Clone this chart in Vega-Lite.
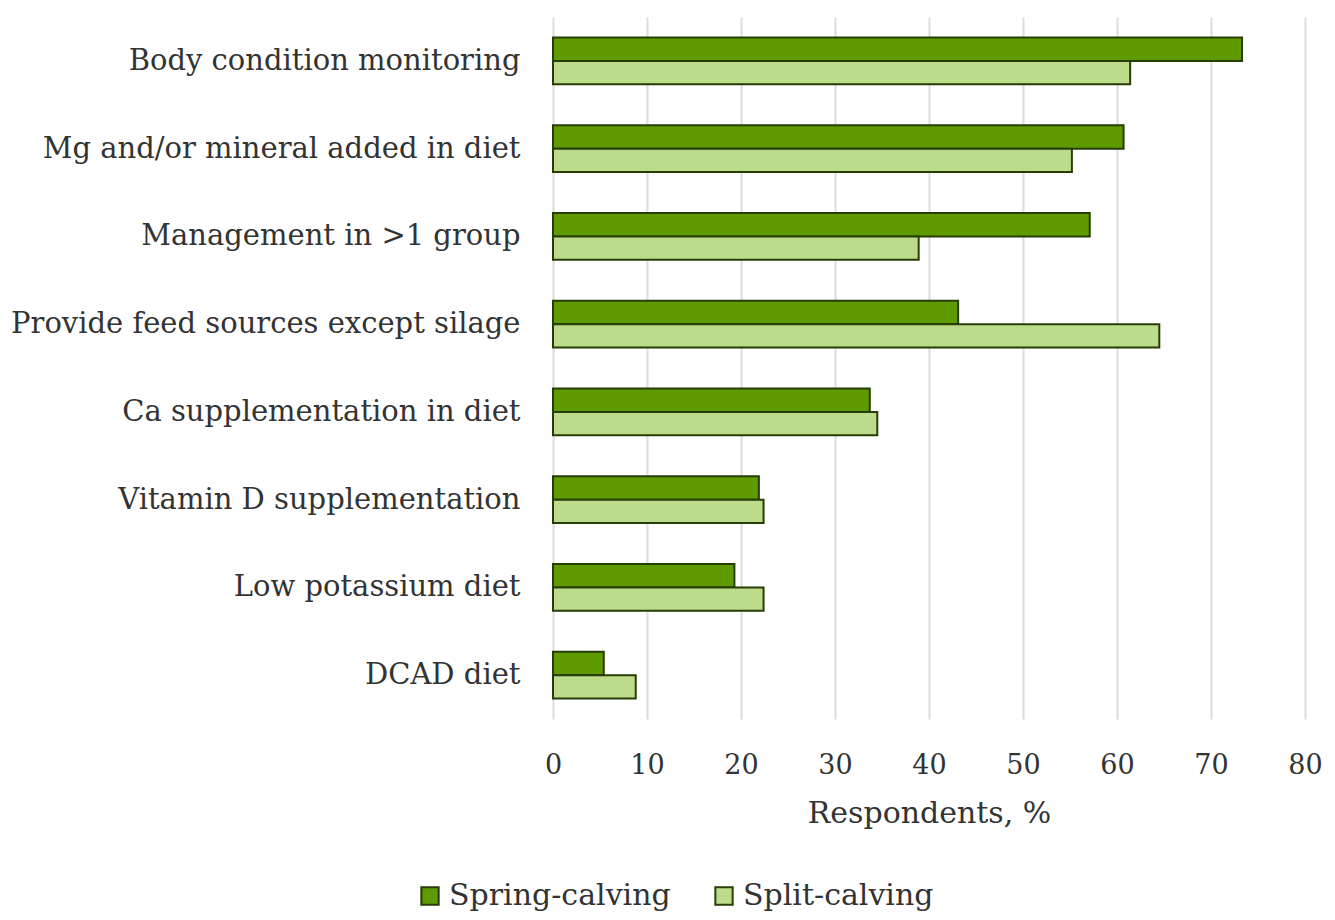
{
  "$schema": "https://vega.github.io/schema/vega-lite/v6.json",
  "autosize": {"type": "none"},
  "padding": {"left": 553, "top": 17, "right": 30, "bottom": 201},
  "width": 752,
  "height": 702,
  "background": "white",
  "config": {
    "font": "DejaVu Serif",
    "axis": {"labelFont": "DejaVu Serif", "titleFont": "DejaVu Serif"},
    "legend": {"labelFont": "DejaVu Serif"},
    "view": {"stroke": null}
  },
  "data": {
    "values": [
      {"practice": "Body condition monitoring", "group": "Spring-calving", "value": 73.3},
      {"practice": "Body condition monitoring", "group": "Split-calving", "value": 61.4},
      {"practice": "Mg and/or mineral added in diet", "group": "Spring-calving", "value": 60.7},
      {"practice": "Mg and/or mineral added in diet", "group": "Split-calving", "value": 55.2},
      {"practice": "Management in >1 group", "group": "Spring-calving", "value": 57.1},
      {"practice": "Management in >1 group", "group": "Split-calving", "value": 38.9},
      {"practice": "Provide feed sources except silage", "group": "Spring-calving", "value": 43.1},
      {"practice": "Provide feed sources except silage", "group": "Split-calving", "value": 64.5},
      {"practice": "Ca supplementation in diet", "group": "Spring-calving", "value": 33.7},
      {"practice": "Ca supplementation in diet", "group": "Split-calving", "value": 34.5},
      {"practice": "Vitamin D supplementation", "group": "Spring-calving", "value": 21.9},
      {"practice": "Vitamin D supplementation", "group": "Split-calving", "value": 22.4},
      {"practice": "Low potassium diet", "group": "Spring-calving", "value": 19.3},
      {"practice": "Low potassium diet", "group": "Split-calving", "value": 22.4},
      {"practice": "DCAD diet", "group": "Spring-calving", "value": 5.4},
      {"practice": "DCAD diet", "group": "Split-calving", "value": 8.8}
    ]
  },
  "mark": {"type": "bar", "stroke": "#263d05", "strokeWidth": 2},
  "encoding": {
    "y": {
      "field": "practice",
      "type": "nominal",
      "sort": null,
      "scale": {"paddingInner": 0.47, "paddingOuter": 0.235},
      "axis": {
        "title": null,
        "domain": false,
        "ticks": false,
        "labelFontSize": 29,
        "labelColor": "#333333",
        "labelPadding": 33,
        "labelLimit": 600
      }
    },
    "yOffset": {
      "field": "group",
      "type": "nominal",
      "sort": ["Spring-calving", "Split-calving"]
    },
    "x": {
      "field": "value",
      "type": "quantitative",
      "scale": {"domain": [0, 80]},
      "axis": {
        "title": "Respondents, %",
        "titleFontSize": 30,
        "titleFontWeight": "normal",
        "titleColor": "#333333",
        "titlePadding": 20,
        "values": [0, 10, 20, 30, 40, 50, 60, 70, 80],
        "labelFontSize": 27,
        "labelColor": "#333333",
        "labelPadding": 33,
        "labelFlush": false,
        "domain": false,
        "ticks": false,
        "grid": true,
        "gridColor": "#dcdcdc",
        "gridWidth": 2
      }
    },
    "fill": {
      "field": "group",
      "type": "nominal",
      "scale": {"domain": ["Spring-calving", "Split-calving"], "range": ["#5e9a00", "#bcdc8c"]},
      "legend": {
        "title": null,
        "orient": "none",
        "direction": "horizontal",
        "legendX": -138,
        "legendY": 864,
        "labelFontSize": 30,
        "labelColor": "#333333",
        "symbolType": "square",
        "symbolSize": 300,
        "symbolStrokeColor": "#263d05",
        "symbolStrokeWidth": 2,
        "labelOffset": 4,
        "columnPadding": 38,
        "labelLimit": 400
      }
    }
  }
}
